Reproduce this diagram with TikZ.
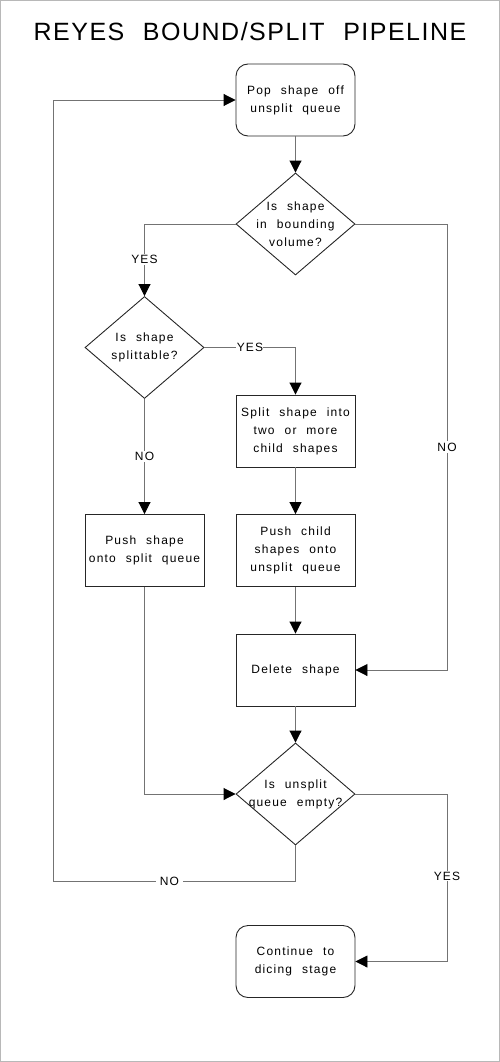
\documentclass[tikz,border=0pt]{standalone}
\usepackage{fontspec}
\setmainfont{Liberation Sans}[LetterSpace=10,WordSpace=2.2]
\newfontfamily\titlefont{Liberation Sans}[LetterSpace=6,WordSpace=2.2]
\usetikzlibrary{shapes.geometric,arrows.meta,calc}
\begin{document}
\begin{tikzpicture}[x=1pt,y=-1pt,
  txt/.style={font=\fontsize{12}{18}\selectfont,align=center,text=black},
  procbox/.style={draw=black!85,line width=0.9pt,minimum width=119pt,minimum height=72pt,inner sep=0pt,txt},
  termbox/.style={procbox,rounded corners=12pt},
  decision/.style={draw=black!85,line width=0.9pt,diamond,minimum width=119pt,minimum height=102pt,inner sep=0pt},
  conn/.style={draw=black!55,line width=0.9pt,-{Triangle[length=12pt,width=12pt,fill=black,color=black]}},
  lab/.style={txt,fill=white,inner sep=1.5pt}]
\useasboundingbox (0,0) rectangle (500,1062);
\draw[black!28,line width=1.2pt] (0.6,0.6) rectangle (499.4,1061.4);
\node[font=\titlefont\fontsize{25}{30}\selectfont] (title) at (250,32) {REYES BOUND/SPLIT PIPELINE};
\node[termbox] (pop) at (295.5,100) {Pop shape off\\unsplit queue};
\node[decision,label={[txt]center:Is shape\\in bounding\\volume?}] (d1) at (295.5,224) {};
\node[decision,label={[txt]center:Is shape\\splittable?}] (d2) at (144.5,347.5) {};
\node[procbox] (split) at (295.5,431) {Split shape into\\two or more\\child shapes};
\node[procbox] (pushs) at (144.5,550.5) {Push shape\\onto split queue};
\node[procbox] (pushc) at (295.5,550.5) {Push child\\shapes onto\\unsplit queue};
\node[procbox] (del) at (295.5,670) {Delete shape};
\node[decision,label={[txt]center:Is unsplit\\queue empty?}] (d3) at (295.5,794) {};
\node[termbox] (cont) at (295.5,961.5) {Continue to\\dicing stage};
\coordinate (r1) at (447,224);
\coordinate (r2) at (447,794);
\coordinate (lb) at (53,881.5);
\draw[conn] (pop.south) -- (d1.north);
\draw[conn] (d1.west) -| node[lab,pos=0.745] (yes1) {YES} (d2.north);
\draw[conn] (d1.east) -- (r1) |- node[lab,pos=0.25] (no1) {NO} (del.east);
\draw[conn] (d2.east) -| node[lab,pos=0.25,inner sep=0.3pt] (yes2) {YES} (split.north);
\draw[conn] (d2.south) -- node[lab,pos=0.5] (no2) {NO} (pushs.north);
\draw[conn] (split.south) -- (pushc.north);
\draw[conn] (pushc.south) -- (del.north);
\draw[conn] (del.south) -- (d3.north);
\draw[conn] (pushs.south) |- (d3.west);
\draw[conn] (d3.south) |- node[lab,pos=0.76,inner sep=4pt] (no3) {NO} (lb) |- (pop.west);
\draw[conn] (d3.east) -- (r2) |- node[lab,pos=0.245,inner sep=0.5pt] (yes3) {YES} (cont.east);
\end{tikzpicture}
\end{document}
